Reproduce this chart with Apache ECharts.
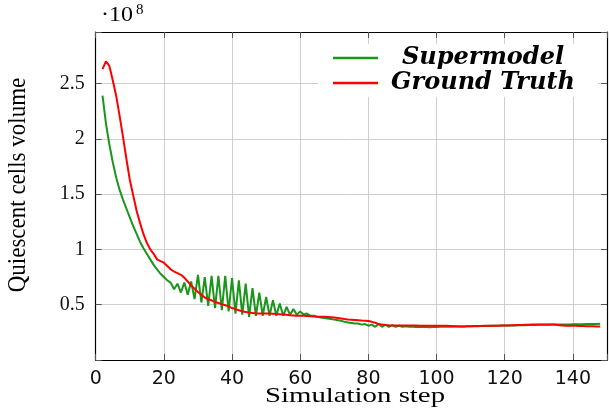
<!DOCTYPE html>
<html>
<head>
<meta charset="utf-8">
<script src="https://cdn.jsdelivr.net/npm/echarts@6/dist/echarts.min.js"></script>
<style>html,body{margin:0;padding:0;background:#fff}#c{width:610px;height:410px}</style>
</head>
<body>
<div id="c"></div>
<script>
// Simulation steps (x)
const steps = [
  2,3,4,5,6,7,8,9,10,11,
  12,13,14,15,16,17,18,19,20,21,
  22,23,24,25,26,27,28,29,30,31,
  32,33,34,35,36,37,38,39,40,41,
  42,43,44,45,46,47,48,49,50,51,
  52,53,54,55,56,57,58,59,60,61,
  62,63,64,65,66,67,68,69,70,71,
  72,73,74,75,76,77,78,79,80,81,
  82,83,84,85,86,87,88,89,90,91,
  92,93,94,95,96,97,98,99,100,101,
  102,103,104,105,106,107,108,109,110,111,
  112,113,114,115,116,117,118,119,120,121,
  122,123,124,125,126,127,128,129,130,131,
  132,133,134,135,136,137,138,139,140,141,
  142,143,144,145,146,147,148
];
// Supermodel (x 1e8)
const supermodel = [
  2.39,2.14,1.95,1.79,1.65,1.54,1.45,1.37,1.29,1.21,
  1.14,1.07,1.01,0.96,0.91,0.86,0.82,0.78,0.75,0.72,
  0.70,0.64,0.69,0.61,0.70,0.59,0.71,0.55,0.77,0.52,
  0.75,0.49,0.76,0.47,0.76,0.45,0.76,0.44,0.74,0.42,
  0.72,0.41,0.69,0.39,0.65,0.40,0.61,0.40,0.57,0.40,
  0.54,0.40,0.51,0.40,0.48,0.41,0.46,0.41,0.44,0.41,
  0.42,0.40,0.40,0.39,0.385,0.38,0.375,0.37,0.365,0.36,
  0.355,0.345,0.34,0.335,0.33,0.33,0.32,0.325,0.31,0.32,
  0.30,0.325,0.30,0.32,0.30,0.315,0.30,0.31,0.30,0.305,
  0.30,0.30,0.298,0.30,0.298,0.298,0.296,0.298,0.298,0.30,
  0.30,0.302,0.30,0.302,0.302,0.304,0.304,0.305,0.305,0.306,
  0.306,0.307,0.308,0.308,0.309,0.31,0.31,0.311,0.312,0.312,
  0.313,0.313,0.314,0.315,0.315,0.316,0.316,0.317,0.318,0.318,
  0.319,0.319,0.32,0.32,0.321,0.321,0.322,0.322,0.323,0.323,
  0.324,0.324,0.325,0.325,0.326,0.326,0.327
];
// Ground Truth (x 1e8)
const groundTruth = [
  2.63,2.70,2.66,2.53,2.39,2.21,2.02,1.82,1.63,1.49,
  1.35,1.24,1.14,1.06,1.00,0.96,0.91,0.895,0.88,0.85,
  0.82,0.80,0.785,0.77,0.745,0.71,0.675,0.645,0.615,0.59,
  0.565,0.55,0.54,0.525,0.515,0.505,0.495,0.485,0.47,0.46,
  0.45,0.44,0.435,0.43,0.425,0.42,0.42,0.42,0.42,0.42,
  0.418,0.416,0.414,0.412,0.41,0.405,0.403,0.40,0.40,0.40,
  0.398,0.396,0.394,0.392,0.39,0.39,0.388,0.386,0.384,0.38,
  0.375,0.37,0.366,0.364,0.362,0.36,0.357,0.355,0.352,0.345,
  0.337,0.325,0.32,0.316,0.314,0.313,0.313,0.313,0.312,0.312,
  0.312,0.311,0.311,0.31,0.31,0.31,0.31,0.31,0.31,0.31,
  0.31,0.31,0.308,0.306,0.305,0.304,0.304,0.305,0.306,0.307,
  0.308,0.308,0.309,0.31,0.31,0.31,0.31,0.311,0.312,0.313,
  0.314,0.315,0.316,0.317,0.318,0.319,0.32,0.321,0.322,0.322,
  0.322,0.322,0.32,0.318,0.315,0.312,0.31,0.31,0.31,0.31,
  0.308,0.307,0.306,0.305,0.305,0.304,0.304
];
const yTickLabels = ['0.5','1','1.5','2','2.5'];
const seriesNames = ['Supermodel','Ground Truth'];

const chart = echarts.init(document.getElementById('c'), null, {renderer:'canvas'});
const serif = '"Liberation Serif", "DejaVu Serif", serif';
const tickStyle = {show:true, inside:true, length:6, lineStyle:{color:'#555', width:1}};
const option = {
  animation:false,
  backgroundColor:'#fff',
  grid:{left:95.7, right:-6, top:32, bottom:50, containLabel:false},
  xAxis:[
    {type:'value', min:0, max:150, interval:20, position:'bottom',
     axisLine:{show:true, onZero:false, lineStyle:{color:'#000', width:1.2}},
     axisTick:tickStyle,
     axisLabel:{fontFamily:'"DejaVu Sans", sans-serif', fontSize:19, color:'#111', margin:10,
       formatter:v => (v % 20 === 0 ? String(v) : '')},
     splitLine:{show:true, lineStyle:{color:'#cfcfcf', width:1}}},
    {type:'value', min:0, max:150, interval:20, position:'top',
     axisLine:{show:true, onZero:false, lineStyle:{color:'#000', width:1.2}},
     axisTick:tickStyle, axisLabel:{show:false}, splitLine:{show:false}}
  ],
  yAxis:[
    {type:'value', min:0, max:2.966, interval:0.5, position:'left',
     axisLine:{show:true, onZero:false, lineStyle:{color:'#000', width:1.2}},
     axisTick:tickStyle,
     axisLabel:{fontFamily:serif, fontSize:20, color:'#111', margin:11,
       formatter:v => { const s = String(Math.round(v*10)/10); return yTickLabels.indexOf(s) >= 0 ? s : ''; }},
     splitLine:{show:true, lineStyle:{color:'#cfcfcf', width:1}}},
    {type:'value', min:0, max:2.966, interval:0.5, position:'right',
     axisLine:{show:true, onZero:false, lineStyle:{color:'#000', width:1.2}},
     axisTick:tickStyle, axisLabel:{show:false}, splitLine:{show:false}}
  ],
  legend:{
    orient:'vertical', left:318, top:44,
    padding:[2,15,2,15], itemGap:1, itemWidth:45, itemHeight:2.5,
    icon:'rect',
    backgroundColor:'#fff', borderWidth:0,
    data:seriesNames,
    formatter:name => '{t|' + name + '}',
    textStyle:{rich:{t:{fontFamily:'"DejaVu Serif", serif', fontStyle:'italic', fontWeight:'bold',
      fontSize:24, width:200, align:'center', lineHeight:24, color:'#000'}}}
  },
  graphic:[
    {type:'text', x:101, y:16, scaleX:1.2,
     style:{text:'·10', font:'20px "Liberation Serif", serif', fill:'#000', textVerticalAlign:'middle'}},
    {type:'text', x:136, y:10,
     style:{text:'8', font:'15px "Liberation Serif", serif', fill:'#000', textVerticalAlign:'middle'}},
    {type:'text', x:18, y:185, rotation:Math.PI/2, scaleY:1.1,
     style:{text:'Quiescent cells volume', font:'23px "Liberation Serif", serif', fill:'#000',
       textAlign:'center', textVerticalAlign:'middle'}},
    {type:'text', x:355, y:396, scaleX:1.31,
     style:{text:'Simulation step', font:'22px "Liberation Serif", serif', fill:'#000',
       textAlign:'center', textVerticalAlign:'middle'}}
  ],
  series:[
    {name:seriesNames[0], type:'line', symbol:'none', xAxisIndex:0, yAxisIndex:0,
     data:steps.map((s,i)=>[s, supermodel[i]]),
     lineStyle:{color:'#1a961a', width:2}, itemStyle:{color:'#1a961a'}, z:2},
    {name:seriesNames[1], type:'line', symbol:'none', xAxisIndex:0, yAxisIndex:0,
     data:steps.map((s,i)=>[s, groundTruth[i]]),
     lineStyle:{color:'#ff0000', width:2}, itemStyle:{color:'#ff0000'}, z:3}
  ]
};
chart.setOption(option);
</script>
</body>
</html>
